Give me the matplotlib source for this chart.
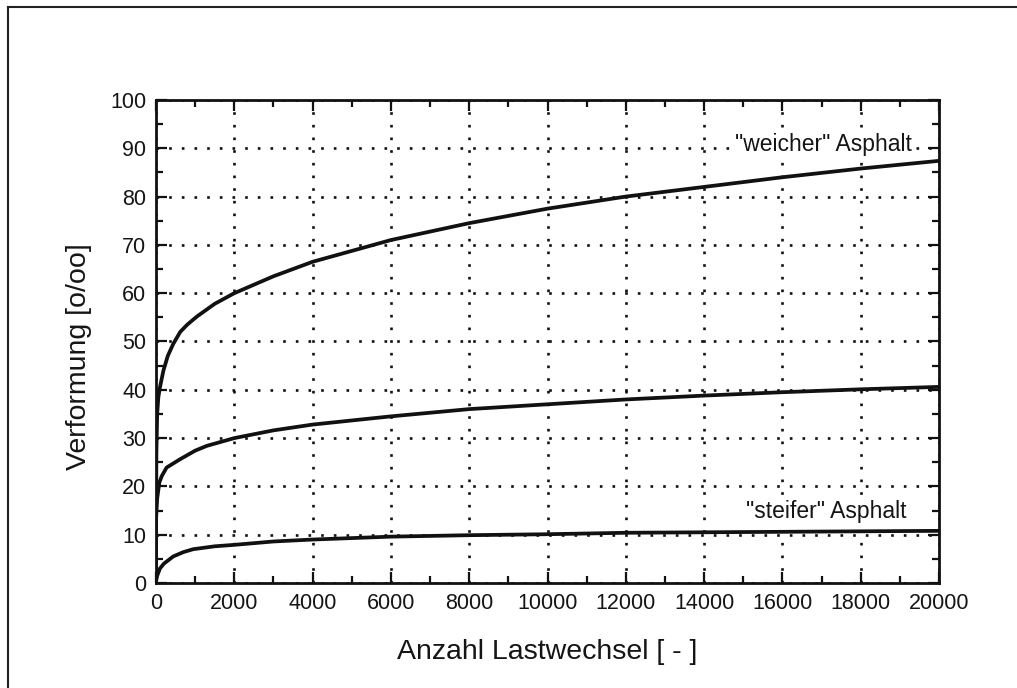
import matplotlib
matplotlib.use("Agg")
import matplotlib.pyplot as plt
from matplotlib.lines import Line2D
from matplotlib.ticker import MultipleLocator

plt.rcParams['font.family'] = ['Liberation Sans', 'DejaVu Sans']

# Lastwechsel (x) and Verformung (y)
n_weich = [0, 3, 10, 30, 60, 100, 190, 300, 440, 620, 800, 1050, 1500, 2000,
           3000, 4000, 6000, 8000, 10000, 12000, 14000, 16000, 18000, 20000]
v_weich = [0, 15, 27, 35, 38.5, 40.5, 44, 47, 49.5, 52, 53.5, 55.2, 57.8, 60,
           63.5, 66.5, 71, 74.5, 77.5, 80, 82, 84, 85.8, 87.4]

n_mittel = [0, 30, 85, 145, 270, 610, 1000, 1300, 2000, 3000, 4000,
            6000, 8000, 10000, 12000, 14000, 16000, 18000, 20000]
v_mittel = [13, 17.5, 20.8, 22.1, 23.9, 25.6, 27.4, 28.4, 30, 31.6, 32.8,
            34.5, 36, 37, 38, 38.8, 39.5, 40.1, 40.6]

n_steif = [0, 30, 100, 200, 440, 700, 950, 1500, 2000, 3000, 4000, 6000,
           8000, 10000, 12000, 14000, 16000, 18000, 20000]
v_steif = [0.3, 1.5, 3, 4, 5.5, 6.4, 7.0, 7.6, 7.9, 8.6, 9.0, 9.6,
           9.9, 10.1, 10.4, 10.5, 10.6, 10.7, 10.8]

x_ticks = [0, 2000, 4000, 6000, 8000, 10000, 12000, 14000, 16000, 18000, 20000]
y_ticks = [0, 10, 20, 30, 40, 50, 60, 70, 80, 90, 100]

fig = plt.figure(figsize=(10.17, 6.88), dpi=100)
ax = fig.add_axes([0.1534, 0.1526, 0.7699, 0.7021])

for n, v in [(n_weich, v_weich), (n_mittel, v_mittel), (n_steif, v_steif)]:
    ax.plot(n, v, color='#111111', lw=2.7, solid_capstyle='butt',
            solid_joinstyle='round', zorder=4)

ax.set_xlim(0, 20000)
ax.set_ylim(0, 100)
ax.set_xticks(x_ticks)
ax.set_yticks(y_ticks)
ax.xaxis.set_minor_locator(MultipleLocator(1000))
ax.yaxis.set_minor_locator(MultipleLocator(5))
ax.tick_params(which='both', direction='in', top=True, right=True,
               colors='#111111', labelsize=15.5)
ax.tick_params(which='major', length=8, width=1.6, pad=7)
ax.tick_params(which='minor', length=5, width=1.6)
for lab in ax.get_xticklabels() + ax.get_yticklabels():
    lab.set_color('#151515')

ax.grid(True, which='major', color='#111111', linestyle=(0, (1, 3.8)),
        linewidth=1.9)
for s in ax.spines.values():
    s.set_linewidth(2.0)
    s.set_color('#111111')

ax.set_xlabel('Anzahl Lastwechsel [ - ]', fontsize=20.5, color='#151515',
              labelpad=18)
ax.set_ylabel('Verformung [o/oo]', fontsize=20.5, color='#151515',
              labelpad=13)
ax.yaxis.label.set_y(0.469)

ax.text(17060, 90.7, '"weicher" Asphalt', fontsize=16.5, color='#151515',
        ha='center', va='center', zorder=5,
        bbox=dict(facecolor='white', edgecolor='none', pad=1.0))
ax.text(17110, 14.8, '"steifer" Asphalt', fontsize=16.5, color='#151515',
        ha='center', va='center', zorder=5,
        bbox=dict(facecolor='white', edgecolor='none', pad=1.0))

# outer frame of the scanned figure
fig.add_artist(Line2D([8 / 1017, 8 / 1017], [0, 1 - 7 / 688],
                      transform=fig.transFigure, color='#222222', lw=1.5))
fig.add_artist(Line2D([8 / 1017, 1], [1 - 7 / 688, 1 - 7 / 688],
                      transform=fig.transFigure, color='#222222', lw=1.5))

fig.savefig('out.png', dpi=100)
